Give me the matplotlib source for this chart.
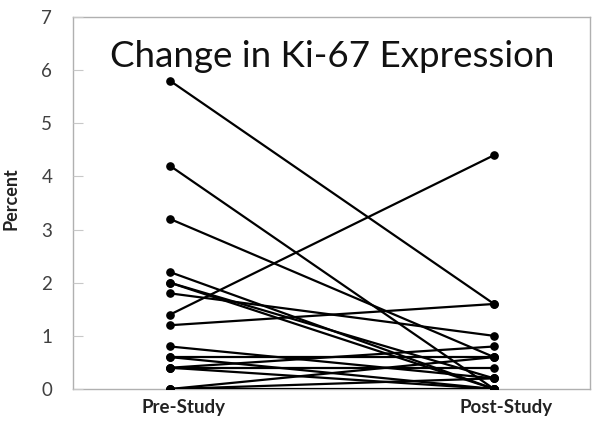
import matplotlib.pyplot as plt

# Ki-67 percent per subject, before and after the study
pre = [5.8, 4.2, 3.2, 2.2, 2.0, 2.0, 1.8, 1.4, 1.2, 0.8, 0.6, 0.6, 0.4, 0.4, 0.4, 0.0, 0.0, 0.0]
post = [1.6, 0.0, 0.6, 0.0, 0.2, 0.0, 1.0, 4.4, 1.6, 0.2, 0.6, 0.0, 0.8, 0.4, 0.0, 0.6, 0.2, 0.0]
groups = ["Pre-Study", "Post-Study"]
y_ticks = [0, 1, 2, 3, 4, 5, 6, 7]

plt.rcParams["font.family"] = ["Lato", "DejaVu Sans"]

fig = plt.figure(figsize=(6.01, 4.24), dpi=100)
ax = fig.add_axes([73 / 601, 35 / 424, 517 / 601, 372 / 424])

for a, b in zip(pre, post):
    ax.plot([0, 1], [a, b], color="black", linewidth=1.6, marker="o",
            markersize=5.2, solid_capstyle="round", zorder=3)

ax.set_xlim(-0.2994, 1.296)
ax.set_ylim(0, 7)
ax.set_yticks(y_ticks)
ax.set_yticklabels([str(t) for t in y_ticks], fontsize=13.5, color="#404040")
ax.tick_params(axis="y", direction="in", length=7, width=0.8, color="#c8c8c8", pad=15)
# category labels sit a little right of the points in the original
ax.set_xticks([0.043, 1.037])
ax.set_xticklabels(groups, fontsize=13.5, fontweight="bold", color="#222222")
ax.tick_params(axis="x", length=0, pad=7)

for side in ["left", "right", "top", "bottom"]:
    ax.spines[side].set_color("#b0b0b0")
    ax.spines[side].set_linewidth(1.0)
    ax.spines[side].set_zorder(1)

ax.set_ylabel("Percent", fontsize=13, fontweight="bold", color="#222222")
ax.yaxis.set_label_coords(-0.104, 0.513)
fig.text(332 / 601, 1 - 67 / 424, "Change in Ki-67 Expression", fontsize=26.5,
         ha="center", va="baseline", color="#111111")

fig.savefig("out.png", dpi=100)
